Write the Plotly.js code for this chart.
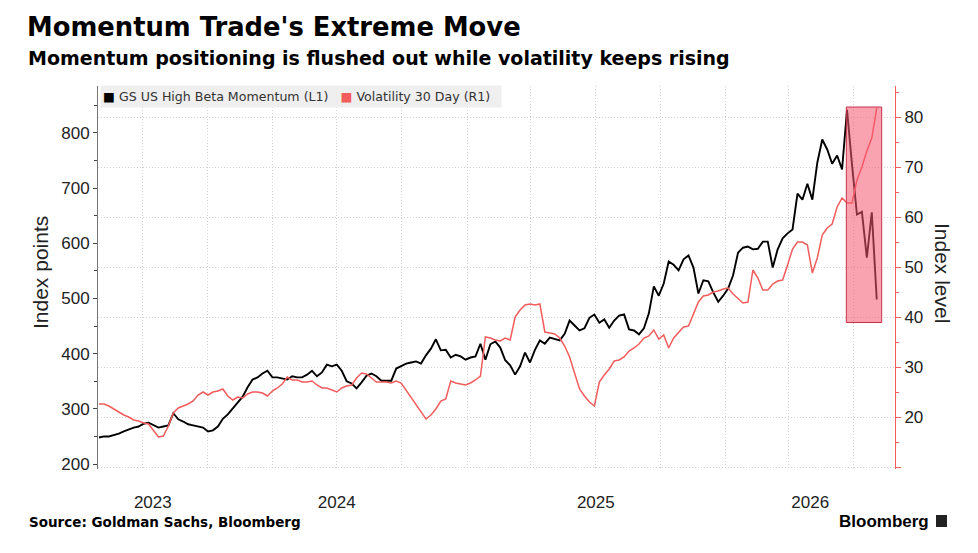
<!DOCTYPE html>
<html>
<head>
<meta charset="utf-8">
<script src="https://cdn.plot.ly/plotly-3.0.1.min.js"></script>
<style>
  html, body { margin: 0; padding: 0; background: #fff; }
  #chart { width: 978px; height: 553px; }
</style>
</head>
<body>
<div id="chart"></div>
<script>
// weekly closes (first week starts 2023-07-31)
const firstWeek = '2023-07-31';

const momentum = [
  248, 250, 250, 252, 255, 259, 263, 266, 268, 273,
  275, 270, 266, 268, 270, 292, 281, 277, 272, 270,
  268, 266, 259, 261, 268, 282, 290, 300, 310, 322,
  339, 353, 357, 364, 369, 357, 357, 355, 353, 359,
  357, 357, 362, 369, 359, 366, 380, 377, 380, 369,
  350, 346, 337, 348, 360, 364, 359, 351, 351, 351,
  373, 377, 382, 384, 386, 382, 397, 409, 426, 406,
  407, 393, 398, 395, 389, 393, 395, 418, 389, 417,
  422, 411, 388, 379, 362, 377, 402, 384, 407, 424,
  418, 429, 427, 424, 436, 460, 451, 442, 446, 465,
  471, 456, 462, 447, 460, 469, 471, 444, 442, 435,
  446, 473, 522, 505, 527, 567, 561, 551, 571, 578,
  556, 509, 533, 531, 511, 494, 505, 518, 542, 583,
  592, 594, 589, 590, 603, 603, 556, 589, 609, 618,
  625, 690, 679, 708, 679, 746, 788, 770, 744, 759,
  734, 842, 743, 652, 657, 574, 656, 498
];

const volatility = [
  22.7, 22.7, 22.3, 21.7, 21.1, 20.5, 20.1, 19.5, 19.3, 18.9,
  18.7, 17.5, 16.1, 16.3, 18.3, 20.9, 21.9, 22.3, 22.7, 23.3,
  24.5, 25.1, 24.5, 25.1, 25.3, 25.7, 24.3, 23.5, 24.1, 23.9,
  24.7, 25.1, 25.1, 24.9, 24.3, 25.3, 25.9, 26.7, 28.1, 27.5,
  27.5, 27.1, 27.1, 27.3, 26.5, 25.9, 25.9, 25.5, 25.1, 25.9,
  26.3, 26.5, 27.9, 28.9, 28.7, 27.9, 27.1, 27.1, 27.1, 26.9,
  27.3, 26.9, 25.5, 24.1, 22.7, 21.3, 19.7, 20.5, 21.7, 23.3,
  23.7, 27.3, 26.9, 26.7, 26.5, 26.9, 27.5, 28.3, 36.1, 35.9,
  35.5, 35.3, 35.9, 35.5, 40.1, 41.5, 42.5, 42.7, 42.5, 42.7,
  37.1, 36.9, 36.7, 35.9, 34.3, 32.1, 29.1, 25.7, 24.3, 23.1,
  22.3, 27.1, 28.5, 29.7, 31.3, 31.5, 32.1, 33.3, 33.9, 34.7,
  35.9, 36.3, 37.5, 35.7, 36.5, 33.9, 35.9, 37.1, 38.1, 38.3,
  40.9, 43.1, 44.3, 44.5, 45.1, 45.3, 45.7, 45.9, 44.7, 43.7,
  42.9, 43.1, 49.5, 47.9, 45.5, 45.5, 46.7, 47.3, 47.5, 50.5,
  53.7, 55.1, 55.1, 54.5, 48.9, 51.9, 56.5, 57.9, 58.7, 62.1,
  63.9, 62.9, 62.9, 67.5, 70.1, 73.3, 75.9, 81.9
];

const yearLabels = ['2023', '2024', '2025', '2026'];
const yearLabelDates = ['2023-10-15', '2024-07-01', '2025-07-02', '2026-05-01'];
const momentumTicks = [200, 300, 400, 500, 600, 700, 800];
const volTicks = [10, 20, 30, 40, 50, 60, 70, 80];
const volTickText = ['', '20', '30', '40', '50', '60', '70', '80'];

// highlighted window at the end
const highlightStart = '2026-06-21';
const highlightEnd = '2026-08-10';
const highlightLow = 39.0;
const highlightHigh = 82.1;

const RED = '#f25c5c';
const GRID = '#d2d2d2';

// build the weekly date axis
const weeks = [];
var t0 = Date.parse(firstWeek + 'T00:00:00Z');
for (var i = 0; i < momentum.length; i++) {
  weeks.push(new Date(t0 + i * 7 * 86400000).toISOString().slice(0, 10));
}

// paper coords from pixel positions (plot area 98..895 x 86..469)
const px = (X) => (X - 98) / 797;
const py = (Y) => (469 - Y) / 383;

const traces = [
  {
    x: weeks, y: volatility, yaxis: 'y2', type: 'scatter', mode: 'lines',
    name: 'Volatility 30 Day (R1)', line: { color: RED, width: 1.5 }
  },
  {
    x: weeks, y: momentum, yaxis: 'y', type: 'scatter', mode: 'lines',
    name: 'GS US High Beta Momentum (L1)', line: { color: '#000', width: 1.9 }
  }
];

const layout = {
  width: 978,
  height: 553,
  paper_bgcolor: '#fff',
  plot_bgcolor: '#fff',
  margin: { l: 98, r: 83, t: 86, b: 84 },
  showlegend: false,
  font: { family: 'Liberation Sans, Arial, sans-serif', size: 17, color: '#222' },
  title: {
    text: "<b>Momentum Trade's Extreme Move</b>",
    xref: 'container', yref: 'container',
    x: 27 / 978, xanchor: 'left',
    y: 1 - 27 / 553, yanchor: 'middle',
    font: { family: 'DejaVu Sans', size: 25.8, color: '#000' }
  },
  xaxis: {
    type: 'date',
    range: ['2023-07-29 14:00', '2026-08-28 19:00'],
    tickmode: 'array',
    tickvals: yearLabelDates,
    ticktext: yearLabels,
    ticks: 'outside', ticklen: 18, tickcolor: 'rgba(0,0,0,0)',
    showgrid: false, showline: false, zeroline: false,
    minor: {
      tick0: '2023-10-01', dtick: 'M3', ticks: '',
      showgrid: true, gridcolor: GRID, griddash: '1px,2px', gridwidth: 1
    }
  },
  yaxis: {
    range: [191, 885],
    tickmode: 'array', tickvals: momentumTicks,
    ticks: 'outside', ticklen: 4, tickcolor: '#444',
    showline: true, linecolor: '#777', linewidth: 1,
    showgrid: false, zeroline: false,
    minor: { tick0: 0, dtick: 50, ticks: 'outside', ticklen: 3, tickcolor: '#444', showgrid: false }
  },
  yaxis2: {
    overlaying: 'y', side: 'right',
    range: [9.7, 86.3],
    tickmode: 'array', tickvals: volTicks, ticktext: volTickText,
    ticks: 'outside', ticklen: 5, tickcolor: RED,
    showline: true, linecolor: RED, linewidth: 1,
    showgrid: true, gridcolor: GRID, griddash: '1px,2px', gridwidth: 1,
    zeroline: false,
    minor: { tick0: 0, dtick: 5, ticks: 'outside', ticklen: 3, tickcolor: RED, showgrid: false }
  },
  shapes: [
    {
      type: 'rect', xref: 'x', yref: 'y2', layer: 'above',
      x0: highlightStart, x1: highlightEnd, y0: highlightLow, y1: highlightHigh,
      fillcolor: 'rgba(245,88,111,0.55)', line: { color: '#c8304a', width: 1 }
    },
    {
      // little logo block next to the wordmark
      type: 'rect', xref: 'paper', yref: 'paper',
      x0: px(936), x1: px(947), y0: py(527), y1: py(515),
      fillcolor: '#222', line: { width: 0 }
    }
  ],
  annotations: [
    {
      text: '<b>Momentum positioning is flushed out while volatility keeps rising</b>',
      xref: 'paper', yref: 'paper', x: px(26), y: py(58),
      xanchor: 'left', yanchor: 'middle', showarrow: false,
      font: { family: 'DejaVu Sans', size: 19, color: '#000' }
    },
    {
      text: '<span style="color:#000">\u25A0</span> GS US High Beta Momentum (L1)\u00a0\u00a0\u00a0' +
            '<span style="color:' + RED + '">\u25A0</span> Volatility 30 Day (R1)',
      xref: 'paper', yref: 'paper', x: px(100), y: py(85),
      xanchor: 'left', yanchor: 'top', showarrow: false,
      align: 'left', width: 396, height: 17, borderpad: 2,
      bgcolor: 'rgba(236,236,236,0.85)',
      font: { family: 'DejaVu Sans', size: 12.6, color: '#333' }
    },
    {
      text: 'Index points',
      xref: 'paper', yref: 'paper', x: px(40), y: py(273),
      xanchor: 'center', yanchor: 'middle', textangle: -90, showarrow: false,
      font: { family: 'Liberation Sans', size: 21, color: '#222' }
    },
    {
      text: 'Index level',
      xref: 'paper', yref: 'paper', x: px(943), y: py(273),
      xanchor: 'center', yanchor: 'middle', textangle: 90, showarrow: false,
      font: { family: 'Liberation Sans', size: 21, color: '#222' }
    },
    {
      text: '<b>Source: Goldman Sachs, Bloomberg</b>',
      xref: 'paper', yref: 'paper', x: px(27), y: py(522),
      xanchor: 'left', yanchor: 'middle', showarrow: false,
      font: { family: 'DejaVu Sans', size: 13.5, color: '#000' }
    },
    {
      text: '<b>Bloomberg</b>',
      xref: 'paper', yref: 'paper', x: px(931), y: py(521),
      xanchor: 'right', yanchor: 'middle', showarrow: false,
      font: { family: 'Liberation Sans', size: 17, color: '#000' }
    }
  ]
};

Plotly.newPlot('chart', traces, layout, { displayModeBar: false, staticPlot: true });
</script>
</body>
</html>
